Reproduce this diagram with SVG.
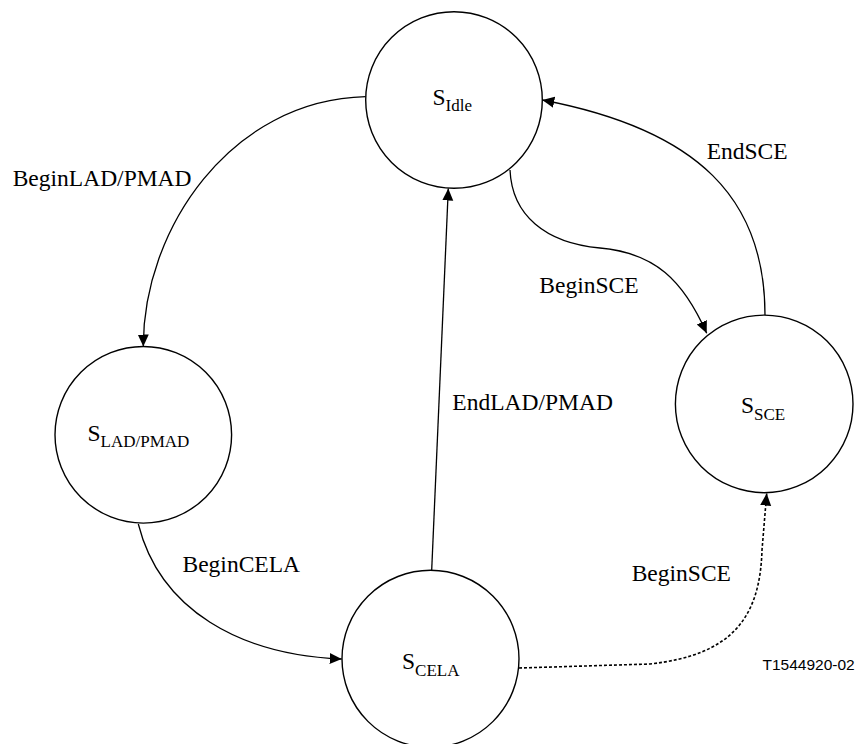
<svg xmlns="http://www.w3.org/2000/svg" width="857" height="744" viewBox="0 0 857 744">
<defs>
<marker id="arr" markerUnits="userSpaceOnUse" markerWidth="13" markerHeight="12" refX="12" refY="5.5" orient="auto">
<path d="M0,0 L12,5.5 L0,11 z" fill="#000"/>
</marker>
<style>
.st{fill:#fff;stroke:#000;stroke-width:1.4}
.lbl{font-family:"Liberation Serif","Times New Roman",serif;font-size:23.5px;fill:#000}
.sub{font-size:17px}
.ln{fill:none;stroke:#000;stroke-width:1.3;marker-end:url(#arr)}
.dot{fill:none;stroke:#000;stroke-width:1.6;stroke-dasharray:3,2;marker-end:url(#arr)}
.code{font-family:"Liberation Sans",Arial,sans-serif;font-size:15.5px;fill:#000}
</style>
</defs>
<rect width="857" height="744" fill="#fff"/>
<g id="connectors">
<path class="ln" d="M365.7,96.7 C230,100 143,230 143.3,346.5"/>
<path class="ln" d="M138.3,524 C160,610 240,655 341.7,659"/>
<path class="ln" d="M431.7,570 L448.3,188.5"/>
<path class="ln" d="M510,170 C512,215 545,243 600,248 C655,253 683,280 706.7,333.3"/>
<path class="ln" d="M765,315 C765,200 700,130 542.3,100"/>
<path class="dot" d="M519,668 L650,664 C730,655 760,620 762,550 L766.7,493.5"/>
<text class="lbl" x="12.7" y="186">BeginLAD/PMAD</text>
<text class="lbl" x="706.7" y="159.3">EndSCE</text>
<text class="lbl" x="539.3" y="292.7">BeginSCE</text>
<text class="lbl" x="452.3" y="410">EndLAD/PMAD</text>
<text class="lbl" x="182.5" y="571.7">BeginCELA</text>
<text class="lbl" x="631.7" y="580.7">BeginSCE</text>
</g>
<g id="s-idle">
<circle class="st" cx="454" cy="100" r="88.3"/>
<text class="lbl" x="432.5" y="105">S<tspan class="sub" dy="6">Idle</tspan></text>
</g>
<g id="s-lad-pmad">
<circle class="st" cx="143.3" cy="434.8" r="88.3"/>
<text class="lbl" x="87.5" y="440.7">S<tspan class="sub" dy="6.5">LAD/PMAD</tspan></text>
</g>
<g id="s-cela">
<circle class="st" cx="430.5" cy="658.8" r="88.5"/>
<text class="lbl" x="402" y="668.5">S<tspan class="sub" dy="7.5">CELA</tspan></text>
</g>
<g id="s-sce">
<circle class="st" cx="764.2" cy="403.9" r="88.8"/>
<text class="lbl" x="741" y="413.3">S<tspan class="sub" dy="7">SCE</tspan></text>
</g>
<text class="code" x="762.5" y="670">T1544920-02</text>
</svg>
